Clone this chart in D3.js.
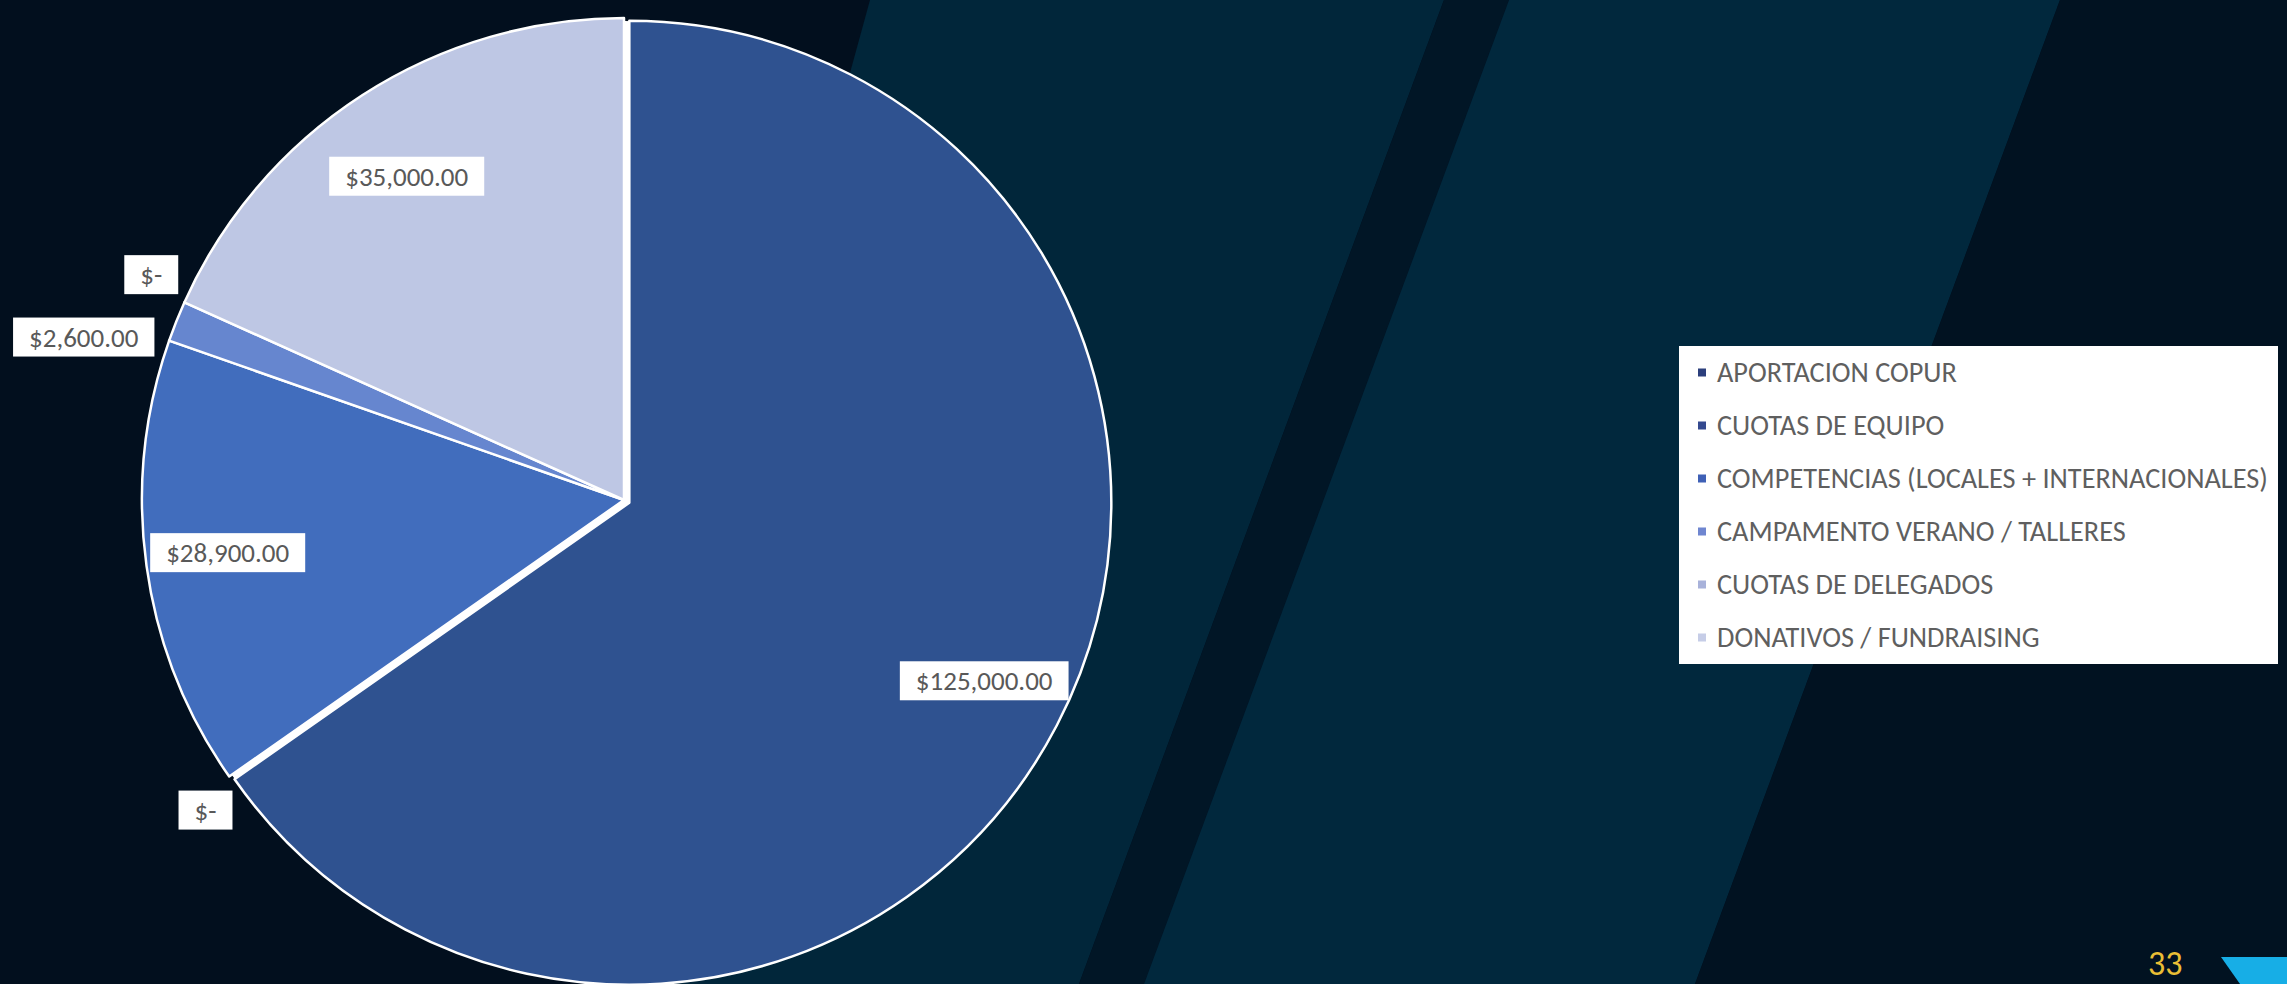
<!DOCTYPE html>
<html>
<head>
<meta charset="utf-8">
<script src="https://cdn.jsdelivr.net/npm/d3@7/dist/d3.min.js"></script>
<style>
  html, body { margin: 0; padding: 0; background: #020F1E; overflow: hidden; }
  svg { display: block; }
</style>
</head>
<body>
<svg id="chart" width="2287" height="984"></svg>
<script>
// ---- DATA ----
const categories = [
  "APORTACION COPUR",
  "CUOTAS DE EQUIPO",
  "COMPETENCIAS (LOCALES + INTERNACIONALES)",
  "CAMPAMENTO VERANO / TALLERES",
  "CUOTAS DE DELEGADOS",
  "DONATIVOS / FUNDRAISING"
];
const values = [125000, 0, 28900, 2600, 0, 35000];
const pageNumber = "33";

// ---- STYLE ----
const sliceColors = ["#2F5290", "#34498C", "#416DBD", "#6686CF", "#A3B0DB", "#BEC7E4"];
const legendColors = ["#2C3F7C", "#34498F", "#3F60B6", "#6F86D0", "#A8B2DA", "#C6CDE7"];
const FONT = "Carlito, Calibri, Lato, 'Open Sans', sans-serif";
const W = 2287, H = 984;

const svg = d3.select("#chart");

// ---- BACKGROUND ----
const bg = svg.append("g");
bg.append("rect").attr("width", W).attr("height", H).attr("fill", "#020F1E");
const bands = [
  {pts: [[870,0],[1444,0],[1079,984],[600,984]], fill: "#01263A"},
  {pts: [[1444,0],[1509,0],[1144,984],[1079,984]], fill: "#011626"},
  {pts: [[1509,0],[2060,0],[1695,984],[1144,984]], fill: "#01283D"},
  {pts: [[2060,0],[2287,0],[2287,984],[1695,984]], fill: "#011221"}
];
bg.selectAll("polygon").data(bands).join("polygon")
  .attr("points", d => d.pts.map(p => p.join(",")).join(" "))
  .attr("fill", d => d.fill);

// ---- PIE ----
const cx = 624, cy = 500, R = 482;
const total = d3.sum(values);
const data = categories.map((c, i) => ({cat: c, value: values[i], i}));
const pie = d3.pie().sort(null).value(d => d.value).startAngle(0).endAngle(2 * Math.PI);
const arcs = pie(data);
const arc = d3.arc().innerRadius(0).outerRadius(R);
const color = d3.scaleOrdinal().domain(categories).range(sliceColors);
const legendColor = d3.scaleOrdinal().domain(categories).range(legendColors);
const explodeIndex = 0, explodeDist = 6;
const offset = d => {
  if (d.data.i !== explodeIndex) return [0, 0];
  const m = (d.startAngle + d.endAngle) / 2;
  return [Math.sin(m) * explodeDist, -Math.cos(m) * explodeDist];
};

const pieG = svg.append("g").attr("transform", `translate(${cx},${cy})`);
const visible = arcs.filter(a => a.value > 0);
// white underlay where the exploded slice came from
pieG.selectAll("path.under").data(visible.filter(a => a.data.i === explodeIndex)).join("path")
  .attr("class", "under")
  .attr("d", d3.arc().innerRadius(0).outerRadius(R - 3))
  .attr("fill", "#FFFFFF");
pieG.selectAll("path.slice").data(visible).join("path")
  .attr("class", "slice")
  .attr("d", arc)
  .attr("fill", d => color(d.data.cat))
  .attr("stroke", "#FFFFFF")
  .attr("stroke-width", 2.5)
  .attr("stroke-linejoin", "round")
  .attr("transform", d => `translate(${offset(d)[0]},${offset(d)[1]})`);

// ---- DATA LABELS ----
const fmt = v => v === 0 ? "$-" : "$" + d3.format(",.2f")(v);
const labelFont = 27, boxH = 39, padX = 16;
const measure = svg.append("text").attr("font-family", FONT).attr("font-size", labelFont).attr("visibility", "hidden");
const labels = arcs.map(a => {
  measure.text(fmt(a.value));
  const tw = measure.node().getComputedTextLength();
  const w = tw + 2 * padX, h = boxH;
  const m = (a.startAngle + a.endAngle) / 2;
  const ux = Math.sin(m), uy = -Math.cos(m);
  const share = a.value / total;
  const [ox, oy] = offset(a);
  let x, y, outside = share < 0.1;
  if (!outside) {
    x = cx + ox + ux * R * 0.83; y = cy + oy + uy * R * 0.80;
  } else {
    const g = 2;
    x = cx + ux * (R + g) + ux * w / 2;
    y = cy + uy * (R + g) + uy * h + 10;
  }
  return {text: fmt(a.value), w, h, x, y, outside, moved: false};
});
measure.remove();

// simple collision resolution for outside labels
const outs = labels.filter(l => l.outside);
for (let iter = 0; iter < 5; iter++) {
  for (let i = 0; i < outs.length; i++) for (let j = i + 1; j < outs.length; j++) {
    const a = outs[i], b = outs[j];
    const ox = Math.abs(a.x - b.x) < (a.w + b.w) / 2;
    const minSep = a.h * 1.6;
    if (ox && Math.abs(a.y - b.y) < minSep - 0.5) {
      const mid = (a.y + b.y) / 2;
      const top = a.y <= b.y ? a : b, bot = top === a ? b : a;
      top.y = mid - minSep / 2; bot.y = mid + minSep / 2;
      top.moved = bot.moved = true;
    }
  }
}
// keep moved labels just outside the pie
outs.filter(l => l.moved).forEach(l => {
  const g = 9, rr = R + g;
  const left = l.x < cx;
  const nearY = (l.y < cy) ? l.y + l.h / 2 : l.y - l.h / 2;
  const dy = nearY - cy;
  const half = Math.sqrt(Math.max(0, rr * rr - dy * dy));
  if (left) l.x = cx - half - l.w / 2; else l.x = cx + half + l.w / 2;
});

const lg = svg.append("g");
const lab = lg.selectAll("g").data(labels).join("g")
  .attr("transform", d => `translate(${d.x},${d.y})`);
lab.append("rect")
  .attr("x", d => -d.w / 2).attr("y", d => -d.h / 2)
  .attr("width", d => d.w).attr("height", d => d.h)
  .attr("fill", "#FFFFFF");
lab.append("text")
  .attr("text-anchor", "middle").attr("dy", "0.35em")
  .attr("font-family", FONT).attr("font-size", labelFont)
  .attr("fill", "#595959")
  .text(d => d.text);

// ---- LEGEND ----
const legX = 1679, legY = 346, legW = 599, legH = 318;
const leg = svg.append("g");
leg.append("rect").attr("x", legX).attr("y", legY).attr("width", legW).attr("height", legH).attr("fill", "#FFFFFF");
const ly = d3.scaleBand().domain(categories).range([legY, legY + legH]);
// fit font so the longest entry spans the target width
const target = 551;
const probe = leg.append("text").attr("font-family", FONT).attr("font-size", 22).text(categories[2]);
const legFont = 22 * target / probe.node().getComputedTextLength();
probe.remove();
const items = leg.selectAll("g.item").data(categories).join("g").attr("class", "item")
  .attr("transform", d => `translate(${legX}, ${ly(d) + ly.bandwidth() / 2})`);
items.append("rect").attr("x", 19).attr("y", -4).attr("width", 8).attr("height", 8)
  .attr("fill", d => legendColor(d));
items.append("text").attr("x", 38).attr("dy", "0.35em")
  .attr("font-family", FONT).attr("font-size", legFont)
  .attr("fill", "#5F5F5F").text(d => d);

// ---- PAGE DECOR ----
svg.append("text").attr("x", 2148).attr("y", 975)
  .attr("font-family", FONT).attr("font-size", 34).attr("fill", "#E9BE35").text(pageNumber);
svg.append("polygon").attr("points", "2221,957 2287,957 2287,984 2240,984").attr("fill", "#17AEE6");
</script>
</body>
</html>
